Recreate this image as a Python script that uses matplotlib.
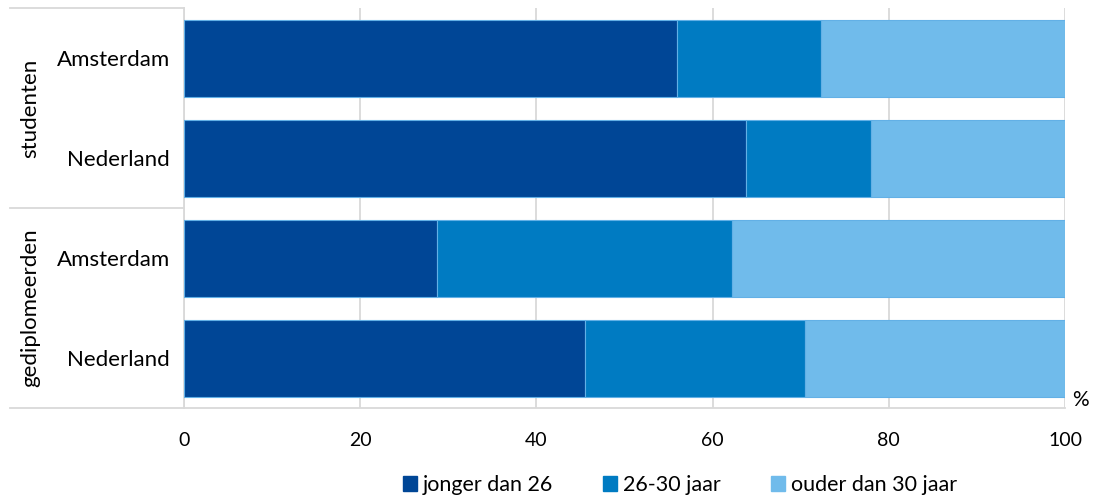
import matplotlib.pyplot as plt
import matplotlib.patches as mpatches
import matplotlib.transforms as mtransforms
import numpy as np

plt.rcParams['font.family'] = ['Lato', 'DejaVu Sans']

# data (percentages)
groups = ['studenten', 'gediplomeerden']
places = ['Amsterdam', 'Nederland', 'Amsterdam', 'Nederland']
jonger = [56.0, 63.8, 28.7, 45.5]
midden = [16.3, 14.2, 33.5, 25.0]
ouder = [27.7, 22.0, 37.8, 29.5]
series_names = ['jonger dan 26', '26-30 jaar', 'ouder dan 30 jaar']
colors = ['#004696', '#007BC2', '#70BBEB']
edge = '#62B0E6'
grid_col = '#D9D9D9'

fig = plt.figure(figsize=(10.99, 5), dpi=100)
ax = fig.add_axes([184 / 1099, 1 - 408 / 500, 881 / 1099, 400 / 500])

y = np.arange(len(places))
left = np.zeros(len(places))
for vals, col in zip([jonger, midden, ouder], colors):
    ax.barh(y, vals, left=left, height=0.77, color=col, edgecolor=edge,
            linewidth=0.8, zorder=3)
    left = left + np.array(vals)

ax.set_xlim(0, 100)
ax.set_ylim(3.5, -0.5)
ax.set_xticks([0, 20, 40, 60, 80, 100])
ax.set_xticklabels(['0', '20', '40', '60', '80', '100'])
ax.set_yticks(y)
ax.set_yticklabels(places)
ax.tick_params(axis='both', length=0, colors='#000000')
ax.tick_params(axis='x', labelsize=14, pad=17)
ax.tick_params(axis='y', labelsize=16, pad=10)
ax.grid(axis='x', color=grid_col, linewidth=1.3, zorder=0)

for s in ['top', 'right']:
    ax.spines[s].set_visible(False)
ax.spines['left'].set_color(grid_col)
ax.spines['bottom'].set_color(grid_col)
ax.spines['left'].set_linewidth(1.3)
ax.spines['bottom'].set_linewidth(1.3)

# group separators in the label area
trans = mtransforms.blended_transform_factory(ax.transAxes, ax.transData)
x0 = (10 - 184) / 881
for yy in [-0.5, 1.5, 3.5]:
    ax.plot([x0, 0], [yy, yy], color=grid_col, linewidth=1.3,
            transform=trans, clip_on=False)

# group labels
for i, g in enumerate(groups):
    ax.text((30 - 184) / 881, 0.5 + 2 * i, g, rotation=90, ha='center',
            va='center', fontsize=16, transform=trans)

ax.text(1.008, -0.005, '%', transform=ax.transAxes, ha='left', va='bottom',
        fontsize=15)

handles = [mpatches.Patch(color=c, label=n) for c, n in zip(colors, series_names)]
fig.legend(handles=handles, loc='center', bbox_to_anchor=(680 / 1099, 1 - 485 / 500),
           ncol=3, frameon=False, fontsize=15.5, handlelength=0.65,
           handleheight=0.65, handletextpad=0.3, columnspacing=2.3)

fig.savefig('out.png', dpi=100)
